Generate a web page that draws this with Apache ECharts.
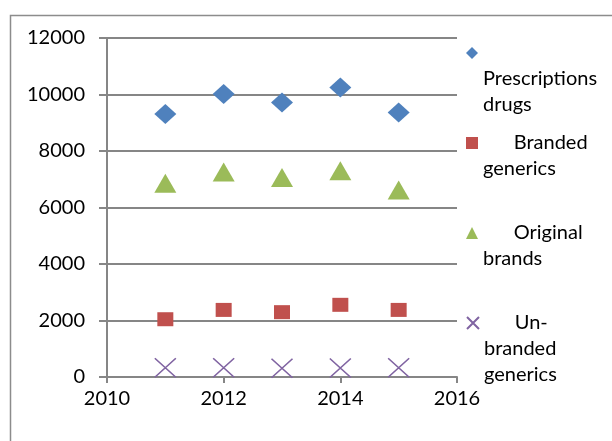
<!DOCTYPE html>
<html>
<head>
<meta charset="utf-8">
<script src="https://cdn.jsdelivr.net/npm/echarts@6/dist/echarts.min.js"></script>
<style>
html,body{margin:0;padding:0;background:#fff;}
#chart{width:612px;height:441px;}
</style>
</head>
<body>
<div id="chart"></div>
<script>
var years = [2011, 2012, 2013, 2014, 2015];
var prescriptionsDrugs = [9310, 10020, 9720, 10250, 9360];
var brandedGenerics = [2045, 2375, 2295, 2555, 2375];
var originalBrands = [6860, 7260, 7060, 7300, 6620];
var unbrandedGenerics = [330, 330, 310, 320, 330];
var seriesNames = ['Prescriptions drugs', 'Branded generics', 'Original brands', 'Un-branded generics'];
var legendLines = [
  ['', '', '', 'Prescriptions', 'drugs'],
  ['', '      Branded', 'generics'],
  ['', '      Original', 'brands'],
  ['', '', '      Un-', 'branded', 'generics']
];

function pairs(vals){ return years.map(function(y,i){ return [y, vals[i]]; }); }

var colors = ['#4F81BD', '#C0504D', '#9BBB59', '#8064A2'];
var crossPath = 'path://M0,0L20,20M20,0L0,20';
var LH = 26;
var iconCenters = [53, 143, 233, 323];

var legends = seriesNames.map(function(name, i){
  var n = legendLines[i].length;
  return {
    data: [name],
    left: 466,
    top: iconCenters[i] - n * LH / 2,
    padding: 0,
    itemWidth: 12,
    itemHeight: 12,
    selectedMode: false,
    formatter: function(){ return legendLines[i].join('\n'); },
    textStyle: { fontFamily: 'Lato', fontSize: 20, color: '#000', lineHeight: LH }
  };
});

var chart = echarts.init(document.getElementById('chart'));
chart.setOption({
  animation: false,
  graphic: [{
    type: 'rect', left: 8, top: 13,
    shape: { width: 700, height: 500 },
    style: { fill: 'none', stroke: '#8c8c8c', lineWidth: 1.5 }
  }],
  legend: legends,
  grid: { left: 107, right: 155, top: 38, bottom: 64 },
  xAxis: {
    type: 'value', min: 2010, max: 2016, interval: 2,
    axisLine: { show: true, lineStyle: { color: '#868686', width: 2 } },
    axisTick: { show: true, length: 6, lineStyle: { color: '#868686', width: 2 } },
    splitLine: { show: false },
    axisLabel: { fontFamily: 'Lato', fontSize: 20, color: '#000', margin: 12,
      formatter: function(v){ return String(v); } }
  },
  yAxis: {
    type: 'value', min: 0, max: 12000, interval: 2000,
    axisLine: { show: true, lineStyle: { color: '#868686', width: 2 } },
    axisTick: { show: true, length: 8, lineStyle: { color: '#868686', width: 2 } },
    splitLine: { show: true, lineStyle: { color: '#868686', width: 2 } },
    axisLabel: { fontFamily: 'Lato', fontSize: 20, color: '#000', margin: 22,
      formatter: function(v){ return String(v); } }
  },
  series: [
    { name: seriesNames[0], type: 'scatter', data: pairs(prescriptionsDrugs),
      symbol: 'diamond', symbolSize: [22, 20], itemStyle: { color: colors[0], opacity: 1 } },
    { name: seriesNames[1], type: 'scatter', data: pairs(brandedGenerics),
      symbol: 'rect', symbolSize: [16, 14], itemStyle: { color: colors[1], opacity: 1 } },
    { name: seriesNames[2], type: 'scatter', data: pairs(originalBrands),
      symbol: 'triangle', symbolSize: [22, 19], itemStyle: { color: colors[2], opacity: 1 } },
    { name: seriesNames[3], type: 'scatter', data: pairs(unbrandedGenerics),
      symbol: crossPath, symbolSize: [21, 19],
      itemStyle: { color: 'rgba(0,0,0,0)', borderColor: colors[3], borderWidth: 1.5, opacity: 1 } }
  ]
});
</script>
</body>
</html>
